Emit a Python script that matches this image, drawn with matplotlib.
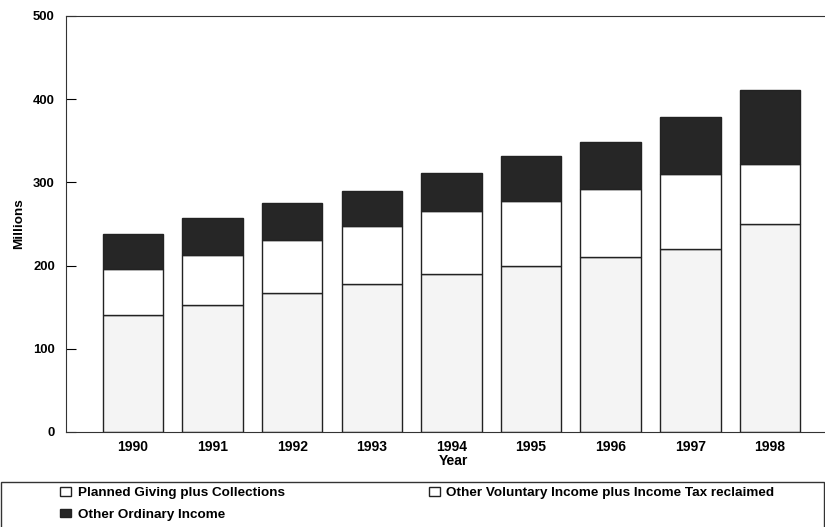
import numpy as np
import matplotlib.pyplot as plt
from matplotlib.patches import Patch, Rectangle

plt.rcParams['font.family'] = ['Liberation Sans', 'DejaVu Sans']
plt.rcParams['font.weight'] = 'bold'

years = ['1990', '1991', '1992', '1993', '1994', '1995', '1996', '1997', '1998']
planned = [141, 153, 167, 178, 190, 200, 210, 220, 250]
voluntary = [55, 60, 64, 70, 76, 78, 82, 90, 72]
ordinary = [42, 44, 44, 42, 45, 54, 57, 69, 89]

lbl_planned = 'Planned Giving plus Collections'
lbl_voluntary = 'Other Voluntary Income plus Income Tax reclaimed'
lbl_ordinary = 'Other Ordinary Income'

fig = plt.figure(figsize=(8.25, 5.27), dpi=100)
ax = fig.add_axes([66/825, 1-432/527, 1-66/825, (432-16)/527])

ind = np.arange(len(years))
width = 0.76
planned = np.array(planned)
voluntary = np.array(voluntary)
ordinary = np.array(ordinary)

ax.bar(ind, planned, width, color='#f4f4f4', edgecolor='#222222', linewidth=1.0)
ax.bar(ind, voluntary, width, bottom=planned, color='white', edgecolor='#222222', linewidth=1.0)
ax.bar(ind, ordinary, width, bottom=planned+voluntary, color='#262626', edgecolor='#222222', linewidth=1.0)

ax.set_xlim(-0.84, 8.69)
ax.set_ylim(0, 500)
ax.set_yticks([0, 100, 200, 300, 400, 500])
ax.set_xticks(ind)
ax.set_xticklabels(years)
ax.tick_params(axis='x', length=0, pad=6, labelsize=10)
ax.tick_params(axis='y', direction='in', length=7, pad=8, labelsize=9.4)
ax.spines['right'].set_visible(False)
for s in ['left', 'top', 'bottom']:
    ax.spines[s].set_color('#333333')
ax.set_xlabel('Year', fontsize=10, fontweight='bold')
ax.xaxis.set_label_coords((453-66)/759, -(454-432)/416)
ax.set_ylabel('Millions', fontsize=9.7, fontweight='bold')
ax.yaxis.set_label_coords(-(66-25)/759, 0.5)

# legend box along the bottom
fig.patches.append(Rectangle((0.001, -0.02), 0.998, 0.02 + 1-482/527,
                             transform=fig.transFigure, fill=False,
                             edgecolor='#333333', linewidth=1.0))
handles = [Patch(facecolor='white', edgecolor='#222222'),
           Patch(facecolor='#262626', edgecolor='#222222'),
           Patch(facecolor='white', edgecolor='#222222')]
fig.legend(handles, [lbl_planned, lbl_ordinary, lbl_voluntary], ncol=2,
           loc='upper left', bbox_to_anchor=(60/825, 1-487/527), frameon=False,
           fontsize=9.7, handlelength=0.85, handleheight=0.6, handletextpad=0.45,
           columnspacing=10.7, labelspacing=0.72, borderaxespad=0, borderpad=0)

fig.savefig('out.png', dpi=100)
